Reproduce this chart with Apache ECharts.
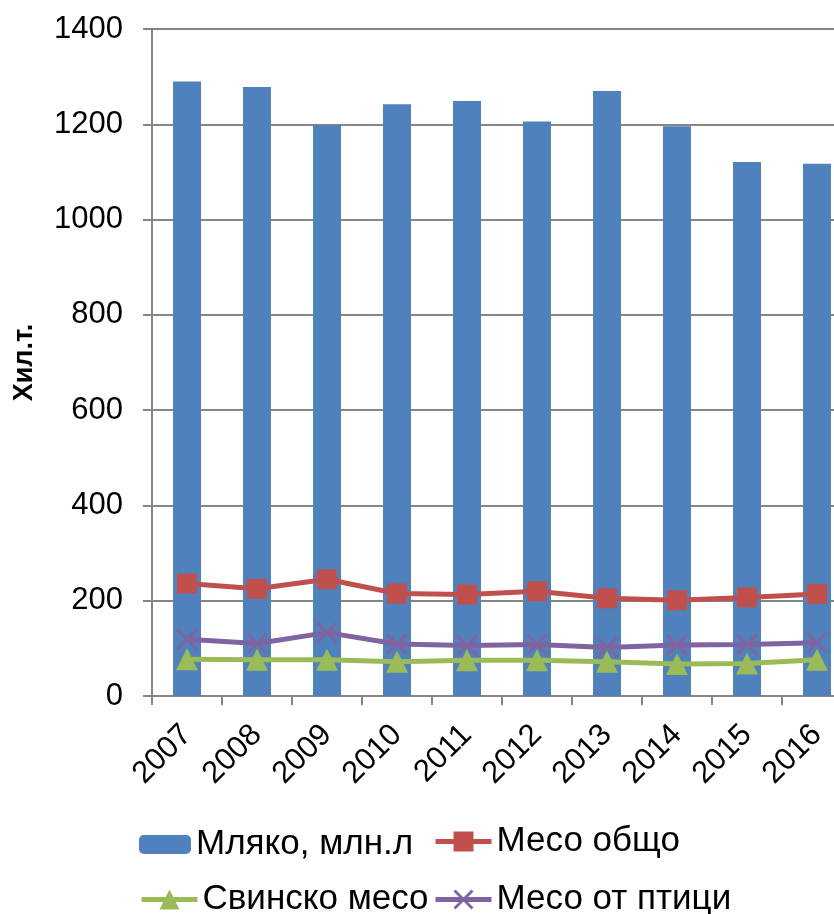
<!DOCTYPE html>
<html>
<head>
<meta charset="utf-8">
<script src="https://cdn.jsdelivr.net/npm/echarts@6/dist/echarts.min.js"></script>
<style>
  html, body { margin: 0; padding: 0; background: #fff; }
  #chart { width: 834px; height: 914px; }
</style>
</head>
<body>
<div id="chart"></div>
<script>
// данни по години
const years = ['2007', '2008', '2009', '2010', '2011', '2012', '2013', '2014', '2015', '2016']
const milk = [1290, 1278, 1198, 1242, 1249, 1206, 1270, 1196, 1121, 1117]
const meatTotal = [236, 225, 245, 215, 213, 220, 205, 201, 207, 214]
const pork = [77, 76, 76, 72, 75, 75, 72, 67, 68, 76]
const poultry = [119, 110, 133, 109, 106, 108, 102, 107, 108, 112]
const yTicks = [0, 200, 400, 600, 800, 1000, 1200, 1400]

const crossPath = 'path://M0,1L1,0L5,4L9,0L10,1L6,5L10,9L9,10L5,6L1,10L0,9L4,5Z'
const axisFont = "'Liberation Sans', Arial, sans-serif"

const chart = echarts.init(document.getElementById('chart'))

const legendItem = (name, left, top, w, h) => ({
  data: [name],
  left: left,
  top: top,
  itemWidth: w,
  itemHeight: h,
  itemGap: 0,
  padding: 0,
  lineStyle: { width: 5 },
  textStyle: { fontFamily: axisFont, fontSize: 35, color: '#000' }
})

const option = {
  animation: false,
  color: ['#4F81BD', '#C0504D', '#9BBB59', '#8064A2'],
  grid: { left: 152, top: 29, right: -18, bottom: 218, containLabel: false, outerBoundsMode: 'none' },
  legend: [
    legendItem('Мляко, млн.л', 139, 827, 52, 19),
    legendItem('Месо общо', 433, 824, 56, 25),
    legendItem('Свинско месо', 139, 882, 56, 25),
    legendItem('Месо от птици', 433, 882, 56, 25)
  ],
  xAxis: {
    type: 'category',
    data: years,
    boundaryGap: true,
    axisLine: { lineStyle: { color: '#868686', width: 2 } },
    axisTick: { show: true, length: 9, lineStyle: { color: '#868686', width: 2 } },
    axisLabel: { rotate: 45, margin: 34, fontSize: 31, color: '#000', fontFamily: axisFont, interval: 0 }
  },
  yAxis: {
    type: 'value',
    min: yTicks[0],
    max: yTicks[yTicks.length - 1],
    interval: 200,
    name: 'Хил.т.',
    nameLocation: 'middle',
    nameRotate: 90,
    nameGap: 114,
    nameTextStyle: { fontSize: 27, fontWeight: 'bold', color: '#000', fontFamily: axisFont },
    axisLine: { show: true, lineStyle: { color: '#868686', width: 2 } },
    axisTick: { show: true, length: 9, lineStyle: { color: '#868686', width: 2 } },
    axisLabel: { fontSize: 31, color: '#000', margin: 29, fontFamily: axisFont, formatter: (v) => String(v) },
    splitLine: { show: true, lineStyle: { color: '#868686', width: 2 } }
  },
  series: [
    {
      name: 'Мляко, млн.л',
      type: 'bar',
      barWidth: '40%',
      data: milk,
      itemStyle: { color: '#4F81BD' }
    },
    {
      name: 'Месо общо',
      type: 'line',
      data: meatTotal,
      symbol: 'rect',
      symbolSize: 20,
      lineStyle: { width: 5, color: '#C0504D' },
      itemStyle: { color: '#C0504D' }
    },
    {
      name: 'Свинско месо',
      type: 'line',
      data: pork,
      symbol: 'triangle',
      symbolSize: 22,
      lineStyle: { width: 5, color: '#9BBB59' },
      itemStyle: { color: '#9BBB59' }
    },
    {
      name: 'Месо от птици',
      type: 'line',
      data: poultry,
      symbol: crossPath,
      symbolSize: 22,
      lineStyle: { width: 5, color: '#8064A2' },
      itemStyle: { color: '#8064A2' }
    }
  ]
}

chart.setOption(option)
</script>
</body>
</html>
